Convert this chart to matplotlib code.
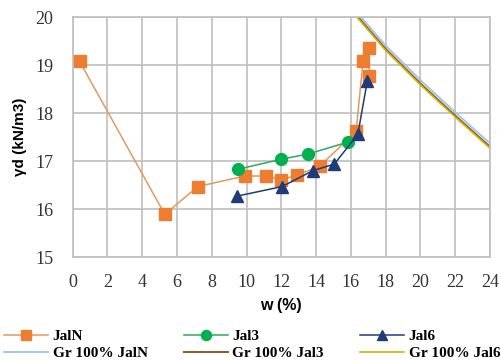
import numpy as np
import matplotlib
matplotlib.use("Agg")
import matplotlib.pyplot as plt

plt.rcParams['font.family'] = 'Liberation Serif'

# compaction data, w (%) vs dry unit weight (kN/m3)
w_jaln = [0.4, 5.3, 7.2, 9.9, 11.1, 12.0, 12.9, 14.2, 16.3, 16.7, 17.05, 17.05]
gd_jaln = [19.08, 15.89, 16.47, 16.69, 16.69, 16.61, 16.71, 16.89, 17.62, 19.08, 19.35, 18.78]

w_jal3 = [9.5, 12.0, 13.55, 15.85]
gd_jal3 = [16.83, 17.04, 17.15, 17.40]

w_jal6 = [9.45, 12.05, 13.8, 15.05, 16.4, 16.95]
gd_jal6 = [16.27, 16.47, 16.80, 16.94, 17.56, 18.68]

# zero air voids lines
w_gr = [16, 18, 20, 22, 24]
gr_jaln = [20.25, 19.41, 18.69, 18.02, 17.37]
gr_jal3 = [20.18, 19.34, 18.62, 17.95, 17.30]
gr_jal6 = [20.15, 19.31, 18.59, 17.92, 17.27]

fig = plt.figure(figsize=(5.01, 3.61), dpi=100)
ax = fig.add_axes([0.145, 0.288, 0.833, 0.664])

ax.plot(w_gr, gr_jaln, color='#9DC3E6', lw=1.3, label='Gr 100% JalN', zorder=2)
ax.plot(w_gr, gr_jal3, color='#8B5A2B', lw=1.4, label='Gr 100% Jal3', zorder=2)
ax.plot(w_gr, gr_jal6, color='#D4B400', lw=1.2, label='Gr 100% Jal6', zorder=2)

ax.plot(w_jaln, gd_jaln, color='#E39A5E', lw=1.1, marker='s', ms=8,
        mfc='#ED7D31', mec='#ED7D31', label='JalN', zorder=3)
ax.plot(w_jal3, gd_jal3, color='#2EAA5A', lw=1.1, marker='o', ms=8.5,
        mfc='#00B050', mec='#00B050', label='Jal3', zorder=4)
ax.plot(w_jal6, gd_jal6, color='#1F3C78', lw=1.1, marker='^', ms=8.5,
        mfc='#1F3C78', mec='#1F3C78', label='Jal6', zorder=5)

ax.set_xlim(0, 24)
ax.set_ylim(15, 20)
ax.set_xticks(np.arange(0, 25, 2))
ax.set_yticks(np.arange(15, 21, 1))
ax.grid(True, color='#BFBFBF', lw=1.2)
ax.set_axisbelow(True)
for s in ax.spines.values():
    s.set_color('#BFBFBF')
    s.set_linewidth(1.2)
ax.tick_params(axis='x', length=0, pad=12, labelsize=13, labelcolor='#333333')
ax.tick_params(axis='y', length=0, pad=14, labelsize=13, labelcolor='#333333')

ax.set_xlabel('w (%)', fontsize=11.5, fontweight='bold', family='Liberation Sans', labelpad=5)
ax.set_ylabel('γd (kN/m3)', fontsize=11, fontweight='bold', family='Liberation Sans', labelpad=6)

h, l = ax.get_legend_handles_labels()
order = [3, 0, 4, 1, 5, 2]
leg = fig.legend([h[i] for i in order], [l[i] for i in order], ncol=3,
                 loc='lower left', bbox_to_anchor=(-0.02, -0.035), frameon=False,
                 prop={'family': 'Liberation Serif', 'weight': 'bold', 'size': 11},
                 handlelength=2.9, columnspacing=2.35, handletextpad=0.3,
                 labelspacing=0.2, markerscale=0.85)

fig.savefig('out.png', dpi=100)
